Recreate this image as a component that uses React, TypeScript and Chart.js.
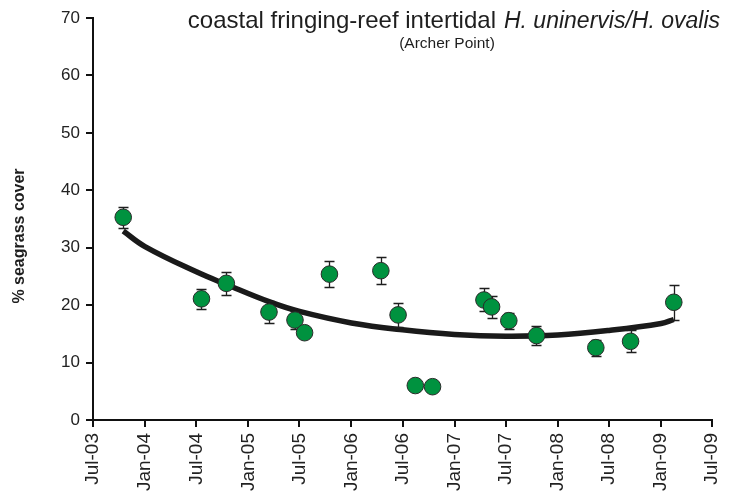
import { useEffect, useRef } from 'react';
import { Chart, registerables } from 'chart.js';

Chart.register(...registerables);

// ---- data ----
const sampleDates = [
  '2003-10-16', '2004-07-19', '2004-10-15', '2005-03-15', '2005-06-15', '2005-07-19',
  '2005-10-15', '2006-04-15', '2006-06-15', '2006-08-15', '2006-10-15', '2007-04-15',
  '2007-05-12', '2007-07-12', '2007-10-18', '2008-05-15', '2008-09-15', '2009-02-15',
];
const coverValues = [
  35.3, 21.1, 23.8, 18.8, 17.4, 15.2,
  25.4, 26.0, 18.3, 6.0, 5.8, 20.9,
  19.7, 17.3, 14.7, 12.6, 13.7, 20.5,
];
const coverSE = [
  1.8, 1.7, 2.0, 1.9, 1.5, 0.8,
  2.2, 2.3, 2.1, 0.4, 0.4, 2.0,
  1.9, 1.4, 1.6, 1.4, 1.9, 3.0,
];
const trendDates = [
  '2003-10-16', '2004-01-01', '2004-07-01', '2004-10-15', '2005-03-15', '2005-07-01',
  '2006-01-01', '2006-07-01', '2007-01-01', '2007-07-01', '2008-01-01', '2008-07-01',
  '2009-01-01', '2009-02-15',
];
const trendValues = [
  32.9, 30.2, 25.8, 23.6, 20.6, 18.9,
  16.9, 15.7, 14.9, 14.6, 14.8, 15.6,
  16.8, 17.5,
];
const tickDates = [
  '2003-07-01', '2004-01-01', '2004-07-01', '2005-01-01', '2005-07-01', '2006-01-01',
  '2006-07-01', '2007-01-01', '2007-07-01', '2008-01-01', '2008-07-01', '2009-01-01',
  '2009-07-01',
];
const tickLabels = [
  'Jul-03', 'Jan-04', 'Jul-04', 'Jan-05', 'Jul-05', 'Jan-06',
  'Jul-06', 'Jan-07', 'Jul-07', 'Jan-08', 'Jul-08', 'Jan-09',
  'Jul-09',
];
const yMin = 0;
const yMax = 70;
const yStep = 10;
const titleText = 'coastal fringing-reef intertidal';
const titleItalic = 'H. uninervis/H. ovalis';
const subtitleText = '(Archer Point)';
const yAxisTitle = '% seagrass cover';

const FONT = '"Liberation Sans", Arial, Helvetica, sans-serif';
const toDay = (s: string) => Date.parse(s + 'T00:00:00Z') / 86400000;

export default function App() {
  const ref = useRef<HTMLCanvasElement | null>(null);

  useEffect(() => {
    document.body.style.margin = '0';
    const canvas = ref.current;
    if (!canvas) return;

    const errorBars = {
      id: 'errorBars',
      afterDatasetDraw(chart: any, args: any) {
        if (args.index !== 1) return;
        const { ctx } = chart;
        const xs = chart.scales.x;
        const ys = chart.scales.y;
        ctx.save();
        ctx.strokeStyle = '#1e1e1e';
        ctx.lineWidth = 1.3;
        sampleDates.forEach((d, i) => {
          const px = Math.round(xs.getPixelForValue(toDay(d))) + 0.5;
          const top = Math.round(ys.getPixelForValue(coverValues[i] + coverSE[i])) + 0.5;
          const bot = Math.round(ys.getPixelForValue(coverValues[i] - coverSE[i])) + 0.5;
          ctx.beginPath();
          ctx.moveTo(px, top);
          ctx.lineTo(px, bot);
          ctx.moveTo(px - 5, top);
          ctx.lineTo(px + 5, top);
          ctx.moveTo(px - 5, bot);
          ctx.lineTo(px + 5, bot);
          ctx.stroke();
        });
        ctx.restore();
      },
    };

    const texts = {
      id: 'texts',
      afterDraw(chart: any) {
        const { ctx } = chart;
        ctx.save();
        ctx.fillStyle = '#1e1e1e';
        ctx.textBaseline = 'alphabetic';
        // title
        ctx.font = `italic 23px ${FONT}`;
        ctx.textAlign = 'right';
        const right = 720;
        ctx.fillText(titleItalic, right, 28);
        const iw = ctx.measureText(titleItalic).width;
        ctx.font = `24px ${FONT}`;
        ctx.fillText(titleText, right - iw - 8, 28);
        // subtitle
        ctx.font = `15.5px ${FONT}`;
        ctx.textAlign = 'center';
        ctx.fillText(subtitleText, 447, 48);
        // y axis title
        ctx.translate(24, 236);
        ctx.rotate(-Math.PI / 2);
        ctx.font = `bold 16px ${FONT}`;
        ctx.textAlign = 'center';
        ctx.fillText(yAxisTitle, 0, 0);
        ctx.restore();
      },
    };

    const chart = new Chart(canvas, {
      type: 'scatter',
      data: {
        datasets: [
          {
            type: 'scatter',
            data: sampleDates.map((d, i) => ({ x: toDay(d), y: coverValues[i] })),
            pointRadius: 8.3,
            pointHoverRadius: 8.3,
            backgroundColor: '#00923F',
            borderColor: '#2a2a2a',
            borderWidth: 1,
            order: 0,
          },
          {
            type: 'line',
            data: trendDates.map((d, i) => ({ x: toDay(d), y: trendValues[i] })),
            borderColor: '#1a1a1a',
            borderWidth: 5.5,
            pointRadius: 0,
            tension: 0.4,
            fill: false,
            order: 1,
          } as any,
        ],
      },
      options: {
        animation: false,
        responsive: false,
        devicePixelRatio: 1,
        layout: { padding: { top: 18, right: 25, left: 0, bottom: 0 } },
        plugins: {
          legend: { display: false },
          tooltip: { enabled: false },
          title: { display: false },
        },
        scales: {
          x: {
            type: 'linear',
            min: toDay(tickDates[0]),
            max: toDay(tickDates[tickDates.length - 1]),
            afterBuildTicks: (scale: any) => {
              scale.ticks = tickDates.map((d) => ({ value: toDay(d) }));
            },
            afterFit: (scale: any) => {
              scale.height = 76;
            },
            ticks: {
              autoSkip: false,
              minRotation: 90,
              maxRotation: 90,
              padding: 6,
              color: '#222',
              font: { family: FONT, size: 19 },
              callback: (_v: any, i: number) => tickLabels[i],
            },
            grid: {
              drawOnChartArea: false,
              drawTicks: true,
              tickLength: 7,
              color: '#111',
              lineWidth: 2,
            },
            border: { display: true, color: '#111', width: 2 },
          },
          y: {
            type: 'linear',
            min: yMin,
            max: yMax,
            afterFit: (scale: any) => {
              scale.width = 93;
            },
            ticks: {
              stepSize: yStep,
              padding: 6,
              color: '#222',
              font: { family: FONT, size: 17 },
            },
            grid: {
              drawOnChartArea: false,
              drawTicks: true,
              tickLength: 7,
              color: '#111',
              lineWidth: 2,
            },
            border: { display: true, color: '#111', width: 2 },
          },
        },
      },
      plugins: [errorBars, texts],
    });

    return () => chart.destroy();
  }, []);

  return (
    <div style={{ width: 741, height: 496, background: '#fff' }}>
      <canvas ref={ref} width={741} height={496} style={{ display: 'block' }} />
    </div>
  );
}
